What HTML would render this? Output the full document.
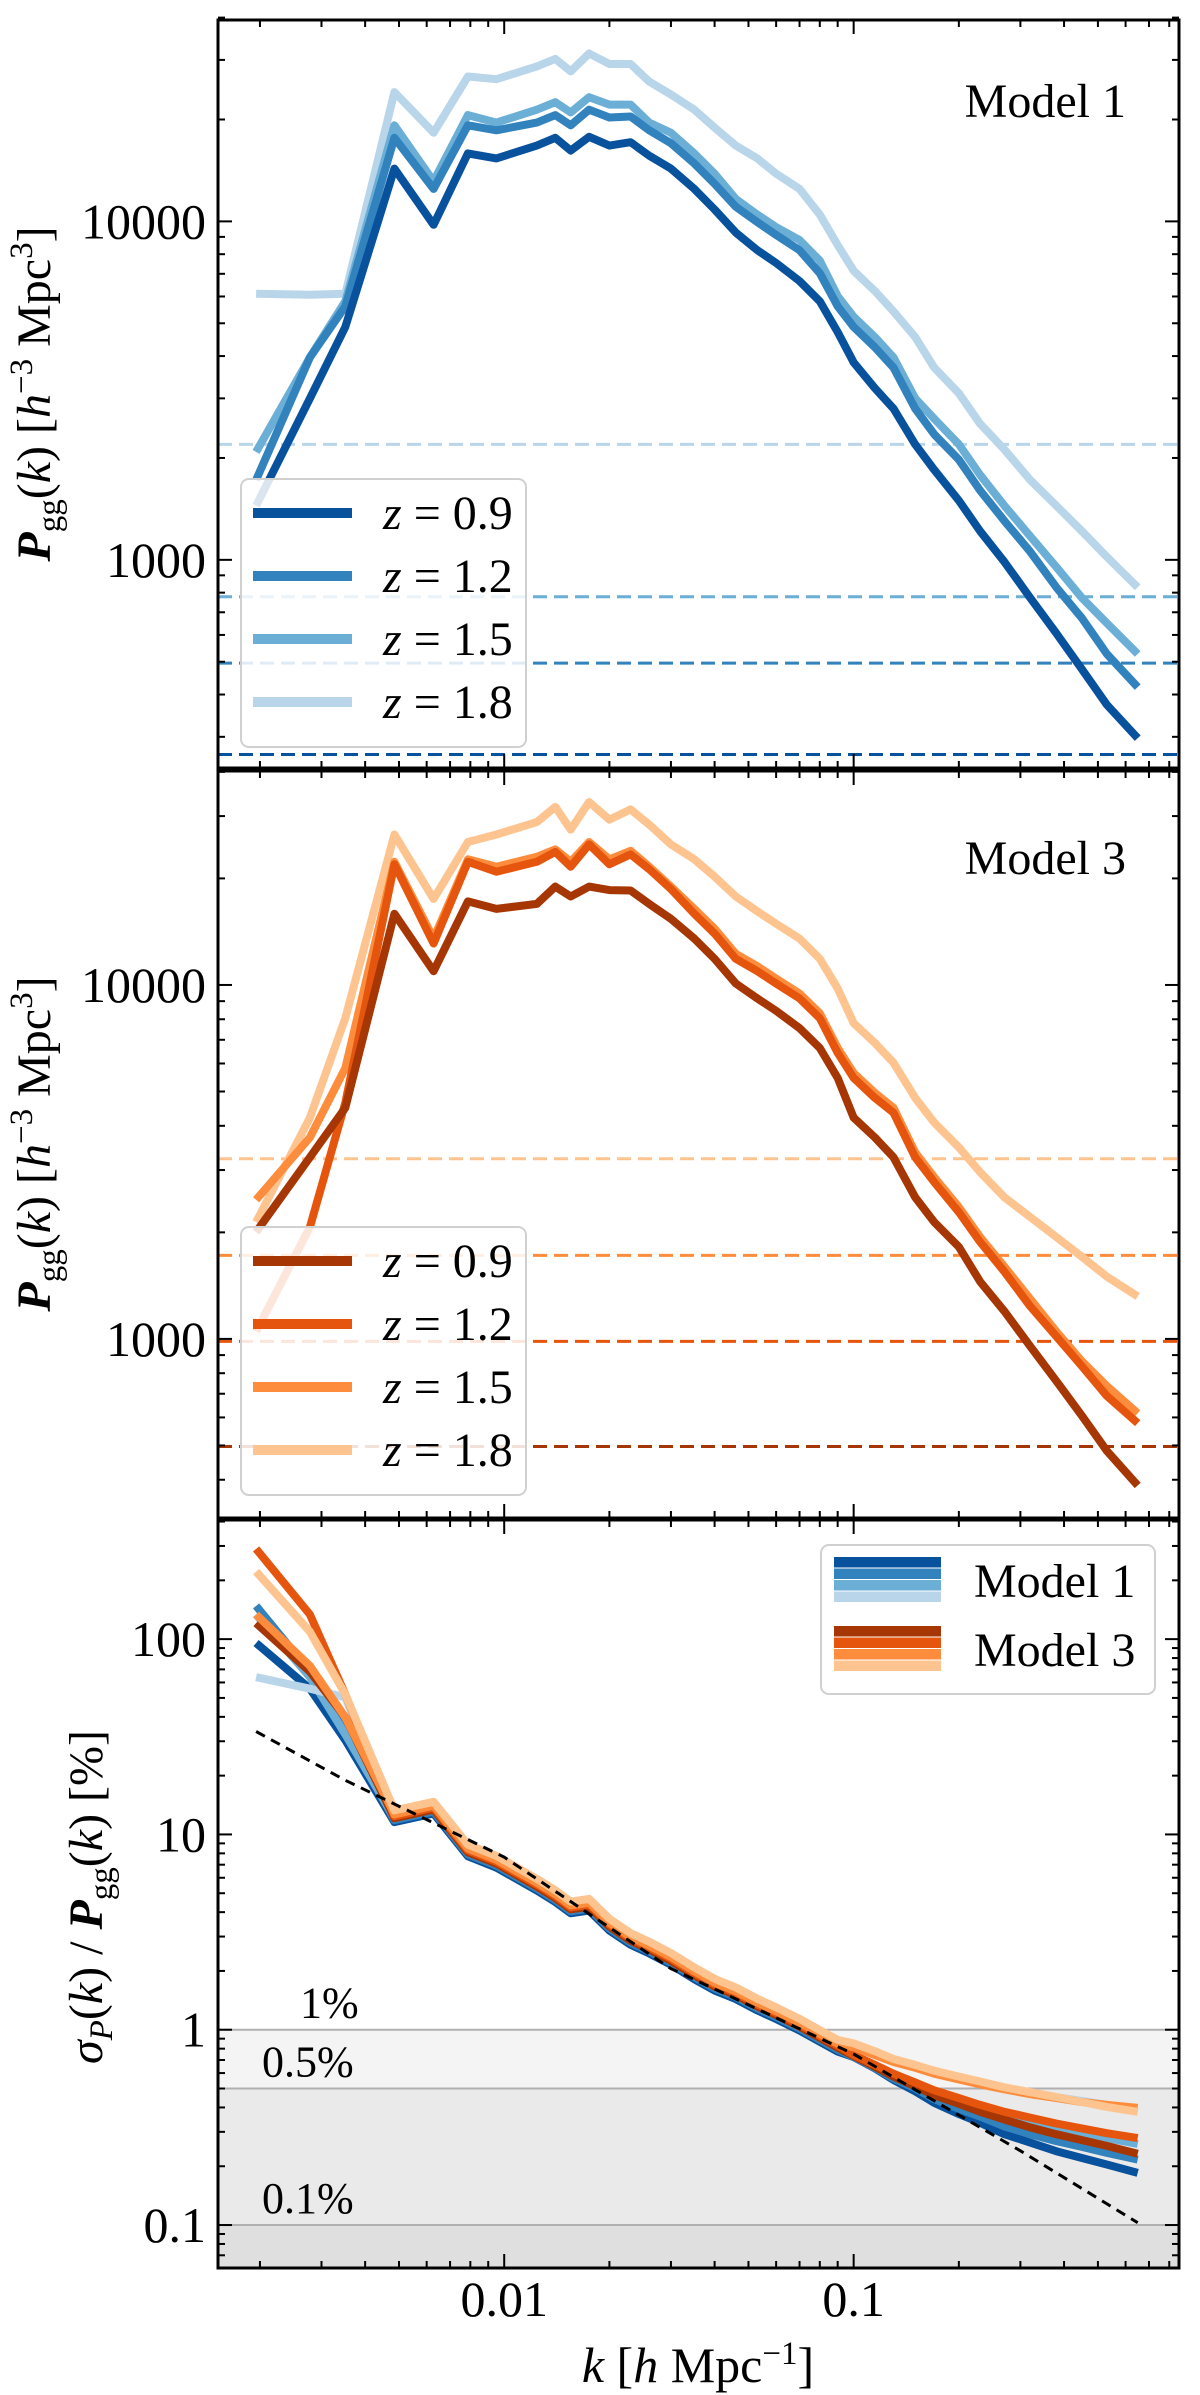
<!DOCTYPE html>
<html><head><meta charset="utf-8"><title>Galaxy power spectrum</title>
<style>
html,body{margin:0;padding:0;background:#fff;}
svg{display:block;font-family:"Liberation Serif","DejaVu Serif",serif;}
</style></head>
<body>
<svg id="fig" width="1200" height="2395" viewBox="0 0 1200 2395" xmlns="http://www.w3.org/2000/svg">
<defs>
<clipPath id="c1"><rect x="218" y="20" width="961" height="748"/></clipPath>
<clipPath id="c2"><rect x="218" y="771" width="961" height="747"/></clipPath>
<clipPath id="c3"><rect x="218" y="1520" width="961" height="748"/></clipPath>
</defs>
<g id="layer"></g>
</svg>
<script>
// ---------- data ----------
const K = [0.00195,0.00278,0.00351,0.00485,0.00628,0.00787,0.0095,0.0124,0.014,0.0155,0.0175,0.02,0.023,0.026,0.03,0.035,0.04,0.046,0.053,0.06,0.07,0.08,0.09,0.1,0.115,0.13,0.15,0.17,0.2,0.23,0.27,0.32,0.38,0.45,0.53,0.65];
// Model 1, log10 P(k)
const logP_m1_z09 = [3.160,3.477,3.688,4.156,3.990,4.201,4.186,4.224,4.247,4.209,4.250,4.224,4.234,4.194,4.156,4.096,4.035,3.967,3.915,3.877,3.824,3.764,3.673,3.583,3.507,3.447,3.341,3.266,3.175,3.085,2.994,2.888,2.783,2.677,2.572,2.473];
const logP_m1_z12 = [3.236,3.598,3.749,4.247,4.096,4.284,4.269,4.292,4.314,4.284,4.330,4.307,4.310,4.269,4.231,4.171,4.111,4.043,3.998,3.960,3.915,3.847,3.749,3.688,3.628,3.568,3.447,3.371,3.296,3.205,3.115,3.024,2.919,2.828,2.722,2.624];
const logP_m1_z15 = [3.319,3.598,3.764,4.284,4.118,4.314,4.292,4.330,4.352,4.322,4.367,4.345,4.345,4.292,4.262,4.201,4.141,4.066,4.020,3.983,3.945,3.884,3.779,3.718,3.658,3.598,3.477,3.417,3.341,3.251,3.160,3.070,2.979,2.888,2.813,2.722];
const logP_m1_z18 = [3.786,3.783,3.786,4.382,4.262,4.428,4.420,4.458,4.480,4.443,4.496,4.465,4.465,4.413,4.375,4.330,4.277,4.224,4.186,4.141,4.096,4.020,3.930,3.854,3.794,3.734,3.658,3.568,3.492,3.402,3.326,3.236,3.160,3.085,3.009,2.919];
const logN_m1 = [2.425,2.695,2.891,3.341];
// Model 3, log10 P(k)
const logP_m3_z09 = [3.302,3.513,3.653,4.201,4.039,4.236,4.215,4.229,4.278,4.250,4.278,4.268,4.267,4.229,4.187,4.131,4.074,4.004,3.962,3.927,3.878,3.822,3.737,3.625,3.569,3.513,3.400,3.330,3.260,3.162,3.078,2.979,2.881,2.783,2.684,2.586];
const logP_m3_z12 = [3.021,3.316,3.667,4.341,4.117,4.348,4.320,4.348,4.376,4.334,4.397,4.341,4.369,4.327,4.271,4.201,4.145,4.074,4.039,4.004,3.962,3.906,3.808,3.737,3.681,3.639,3.513,3.443,3.358,3.274,3.190,3.092,3.007,2.923,2.839,2.762];
const logP_m3_z15 = [3.393,3.569,3.765,4.348,4.131,4.355,4.334,4.362,4.383,4.348,4.404,4.355,4.379,4.334,4.278,4.215,4.159,4.088,4.053,4.018,3.976,3.920,3.822,3.751,3.695,3.653,3.527,3.457,3.372,3.288,3.204,3.113,3.021,2.937,2.867,2.790];
const logP_m3_z18 = [3.330,3.625,3.906,4.425,4.243,4.404,4.425,4.460,4.503,4.439,4.517,4.467,4.496,4.453,4.397,4.355,4.306,4.250,4.208,4.173,4.131,4.074,3.990,3.892,3.836,3.780,3.681,3.611,3.541,3.471,3.400,3.344,3.288,3.232,3.176,3.120];
const logN_m3 = [2.696,2.993,3.236,3.509];
// relative error, log10 percent
const logE_m1_z09 = [1.980,1.746,1.483,1.063,1.107,0.888,0.830,0.713,0.654,0.596,0.610,0.508,0.435,0.391,0.333,0.259,0.201,0.157,0.099,0.055,-0.004,-0.062,-0.112,-0.140,-0.198,-0.257,-0.315,-0.374,-0.432,-0.476,-0.535,-0.578,-0.622,-0.657,-0.690,-0.733];
const logE_m1_z12 = [2.170,1.834,1.541,1.073,1.117,0.898,0.840,0.723,0.664,0.606,0.620,0.518,0.445,0.401,0.343,0.269,0.211,0.167,0.109,0.065,0.006,-0.052,-0.102,-0.140,-0.195,-0.250,-0.300,-0.355,-0.405,-0.445,-0.495,-0.535,-0.570,-0.600,-0.630,-0.665];
const logE_m1_z15 = [2.126,1.805,1.512,1.083,1.127,0.908,0.850,0.733,0.674,0.616,0.630,0.528,0.455,0.411,0.353,0.279,0.221,0.177,0.119,0.075,0.016,-0.042,-0.092,-0.130,-0.180,-0.230,-0.275,-0.320,-0.365,-0.400,-0.440,-0.475,-0.505,-0.530,-0.555,-0.585];
const logE_m1_z18 = [1.805,1.746,1.702,1.098,1.142,0.923,0.865,0.748,0.689,0.631,0.645,0.543,0.470,0.426,0.368,0.294,0.236,0.192,0.134,0.090,0.031,-0.027,-0.077,-0.080,-0.120,-0.160,-0.190,-0.220,-0.250,-0.275,-0.300,-0.325,-0.345,-0.365,-0.385,-0.420];
const logE_m3_z09 = [2.082,1.834,1.600,1.083,1.127,0.908,0.850,0.733,0.674,0.616,0.630,0.528,0.455,0.411,0.353,0.279,0.221,0.177,0.119,0.075,0.016,-0.042,-0.092,-0.135,-0.190,-0.240,-0.290,-0.335,-0.380,-0.420,-0.460,-0.500,-0.535,-0.565,-0.595,-0.635];
const logE_m3_z12 = [2.462,2.126,1.717,1.093,1.137,0.918,0.860,0.743,0.684,0.626,0.640,0.538,0.465,0.421,0.363,0.289,0.231,0.187,0.129,0.085,0.026,-0.032,-0.082,-0.130,-0.180,-0.225,-0.270,-0.310,-0.350,-0.385,-0.420,-0.450,-0.480,-0.505,-0.530,-0.555];
const logE_m3_z15 = [2.126,1.863,1.600,1.103,1.147,0.928,0.870,0.753,0.694,0.636,0.650,0.548,0.475,0.431,0.373,0.299,0.241,0.197,0.139,0.095,0.036,-0.022,-0.072,-0.090,-0.130,-0.165,-0.195,-0.225,-0.255,-0.280,-0.305,-0.330,-0.350,-0.370,-0.385,-0.400];
const logE_m3_z18 = [2.346,2.038,1.717,1.123,1.167,0.948,0.890,0.773,0.714,0.656,0.670,0.568,0.495,0.451,0.393,0.319,0.261,0.217,0.159,0.115,0.056,-0.002,-0.052,-0.070,-0.110,-0.150,-0.180,-0.210,-0.240,-0.265,-0.295,-0.320,-0.345,-0.370,-0.395,-0.420];
const K_ref = [0.00195,0.0035,0.01,0.03,0.1,0.3,0.65];
const logE_ref = [1.527,1.278,0.884,0.313,-0.125,-0.620,-0.988];
const bandLevels = [1,0.5,0.1];
const bandLabels = ["1%","0.5%","0.1%"];
const zLabels = ["0.9","1.2","1.5","1.8"];

// ---------- layout ----------
const NS="http://www.w3.org/2000/svg";
const L=218,R=1179, XL0=-2.819, XL1=-0.069;
const P=[{top:20,bot:768,y0:2.385,y1:4.595},{top:771,bot:1518,y0:2.494,y1:4.6045},{top:1520,bot:2268,y0:-1.22,y1:2.610}];
const xs=k=>L+(Math.log10(k)-XL0)/(XL1-XL0)*(R-L);
const ysL=(p,lv)=>p.bot-(lv-p.y0)/(p.y1-p.y0)*(p.bot-p.top);
const root=document.getElementById('layer');
function mk(tag,attrs,parent){const e=document.createElementNS(NS,tag);for(const a in attrs)e.setAttribute(a,attrs[a]);(parent||root).appendChild(e);return e;}
const blues=["#08519c","#3182bd","#6baed6","#b9d5ea"];
const oranges=["#a63603","#e6550d","#fd8d3c","#fdc48f"];

function drawAxes(p,yMajors,yMinors,fmt){
  const g=mk('g',{});
  
  
  for(let d=-3;d<=0;d++){for(let m=1;m<10;m++){const k=m*Math.pow(10,d);const lk=Math.log10(k);if(lk<XL0||lk>XL1)continue;const x=xs(k);const len=m===1?14:7;
    mk('line',{x1:x,x2:x,y1:p.bot,y2:p.bot-len,stroke:'#000','stroke-width':2},g);
    mk('line',{x1:x,x2:x,y1:p.top,y2:p.top+len,stroke:'#000','stroke-width':2},g);}}
  yMinors.forEach(v=>{const y=ysL(p,Math.log10(v));mk('line',{x1:L,x2:L+7,y1:y,y2:y,stroke:'#000','stroke-width':2},g);mk('line',{x1:R,x2:R-7,y1:y,y2:y,stroke:'#000','stroke-width':2},g);});
  yMajors.forEach(v=>{const y=ysL(p,Math.log10(v));mk('line',{x1:L,x2:L+14,y1:y,y2:y,stroke:'#000','stroke-width':2},g);mk('line',{x1:R,x2:R-14,y1:y,y2:y,stroke:'#000','stroke-width':2},g);
    const t=mk('text',{x:L-12,y:y+17,'text-anchor':'end','font-size':50},g);t.textContent=fmt(v);
    
    });
  const fr=mk('rect',{x:L,y:p.top,width:R-L,height:p.bot-p.top,fill:'none',stroke:'#000','stroke-width':3});
  
  
}
function poly(p,kArr,lv,color,w,clip,name,dash){
  const pts=kArr.map((k,i)=>xs(k).toFixed(1)+','+ysL(p,lv[i]).toFixed(1)).join(' ');
  const e=mk('polyline',{points:pts,fill:'none',stroke:color,'stroke-width':w,'stroke-linejoin':'round','clip-path':'url(#'+clip+')'});
  if(dash)e.setAttribute('stroke-dasharray',dash);
  
  
  return e;
}
function hline(p,lv,color,clip,name){
  const y=ysL(p,lv);
  const e=mk('line',{x1:L,x2:R,y1:y,y2:y,stroke:color,'stroke-width':3,'stroke-dasharray':'14,7','clip-path':'url(#'+clip+')'});
  
  
}
function legendP(top,cols,name){
  const g=mk('g',{});
  
  
  mk('rect',{x:241,y:top,width:285,height:268,rx:8,fill:'#fff','fill-opacity':0.85,stroke:'#d0d0d0','stroke-width':2},g);
  cols.forEach((c,i)=>{const y=top+34+i*63;
    const ln=mk('line',{x1:253,x2:352,y1:y,y2:y,stroke:c,'stroke-width':10},g);
    
    
    const t=mk('text',{x:383,y:y+16,'font-size':48},g);
    t.innerHTML='<tspan font-style="italic">z</tspan> = '+zLabels[i];
    
    });
}
function ytitle(cx,cy,html,name){
  const t=mk('text',{x:0,y:0,transform:`translate(${cx},${cy}) rotate(-90)`,'text-anchor':'middle','font-size':48});
  t.innerHTML=html;
  
  
}

// ---------- panel 1 ----------
{const p=P[0];
 logN_m1.forEach((v,i)=>hline(p,v,blues[i],'c1','shot-noise-m1-z'+zLabels[i]));
 [logP_m1_z18,logP_m1_z15,logP_m1_z12,logP_m1_z09].forEach((a,j)=>poly(p,K,a,blues[3-j],8,'c1','pk-m1-z'+zLabels[3-j]));
 drawAxes(p,[1000,10000],[300,400,500,600,700,800,900,2000,3000,4000,5000,6000,7000,8000,9000,20000,30000,40000],v=>String(v));
 legendP(479,blues,'legend-model1');
 const t=mk('text',{x:1126,y:117,'text-anchor':'end','font-size':48});t.textContent='Model 1';
 
 ytitle(50,394,'<tspan font-weight="bold" font-style="italic">P</tspan><tspan font-size="33" dy="10">gg</tspan><tspan dy="-10">(</tspan><tspan font-style="italic">k</tspan>) [<tspan font-style="italic">h</tspan><tspan font-size="33" dy="-18">−3</tspan><tspan dy="18"> Mpc</tspan><tspan font-size="33" dy="-18">3</tspan><tspan dy="18">]</tspan>','y-axis-title-1');
}
// ---------- panel 2 ----------
{const p=P[1];
 logN_m3.forEach((v,i)=>hline(p,v,oranges[i],'c2','shot-noise-m3-z'+zLabels[i]));
 [logP_m3_z18,logP_m3_z15,logP_m3_z12,logP_m3_z09].forEach((a,j)=>poly(p,K,a,oranges[3-j],8,'c2','pk-m3-z'+zLabels[3-j]));
 drawAxes(p,[1000,10000],[400,500,600,700,800,900,2000,3000,4000,5000,6000,7000,8000,9000,20000,30000,40000],v=>String(v));
 legendP(1227,oranges,'legend-model3');
 const t=mk('text',{x:1126,y:874,'text-anchor':'end','font-size':48});t.textContent='Model 3';
 
 ytitle(50,1144,'<tspan font-weight="bold" font-style="italic">P</tspan><tspan font-size="33" dy="10">gg</tspan><tspan dy="-10">(</tspan><tspan font-style="italic">k</tspan>) [<tspan font-style="italic">h</tspan><tspan font-size="33" dy="-18">−3</tspan><tspan dy="18"> Mpc</tspan><tspan font-size="33" dy="-18">3</tspan><tspan dy="18">]</tspan>','y-axis-title-2');
}
// ---------- panel 3 ----------
{const p=P[2];
 const fills=['#f4f4f4','#eaeaea','#dfdfdf'];
 const labelX=[300,262,262];
 bandLevels.forEach((v,i)=>{const yTop=ysL(p,Math.log10(v));const yBot=i<2?ysL(p,Math.log10(bandLevels[i+1])):p.bot;
   const r=mk('rect',{x:L,y:yTop,width:R-L,height:yBot-yTop,fill:fills[i]});
   
   const ln=mk('line',{x1:L,x2:R,y1:yTop,y2:yTop,stroke:'#b0b0b0','stroke-width':2});
   
   const t=mk('text',{x:labelX[i],y:yTop-12,'font-size':44});t.textContent=bandLabels[i];
   });
 [logE_m1_z09,logE_m1_z12,logE_m1_z15,logE_m1_z18].forEach((a,i)=>poly(p,K,a,blues[i],8,'c3','err-m1-z'+zLabels[i]));
 [logE_m3_z09,logE_m3_z12,logE_m3_z15,logE_m3_z18].forEach((a,i)=>poly(p,K,a,oranges[i],8,'c3','err-m3-z'+zLabels[i]));
 poly(p,K_ref,logE_ref,'#000',3,'c3','reference-dashed-line','10,7');
 drawAxes(p,[0.1,1,10,100],[0.07,0.08,0.09,0.2,0.3,0.4,0.5,0.6,0.7,0.8,0.9,2,3,4,5,6,7,8,9,20,30,40,50,60,70,80,90,200,300,400],v=>String(v));
 const g=mk('g',{});
 mk('rect',{x:821,y:1545,width:334,height:149,rx:8,fill:'#fff','fill-opacity':0.85,stroke:'#d0d0d0','stroke-width':2},g);
 blues.forEach((c,i)=>mk('rect',{x:834,y:1557+i*11.5,width:107,height:10.5,fill:c},g));
 oranges.forEach((c,i)=>mk('rect',{x:834,y:1626+i*11.5,width:107,height:10.5,fill:c},g));
 const t1=mk('text',{x:974,y:1597,'font-size':48},g);t1.textContent='Model 1';
 
 const t2=mk('text',{x:974,y:1666,'font-size':48},g);t2.textContent='Model 3';
 
 ytitle(102,1897,'<tspan font-style="italic">σ</tspan><tspan font-size="33" dy="10" font-style="italic">P</tspan><tspan dy="-10">(</tspan><tspan font-style="italic">k</tspan>) / <tspan font-weight="bold" font-style="italic">P</tspan><tspan font-size="33" dy="10">gg</tspan><tspan dy="-10">(</tspan><tspan font-style="italic">k</tspan>) [%]','y-axis-title-3');
 [[0.01,'0.01'],[0.1,'0.1']].forEach(([k,s])=>{const t=mk('text',{x:xs(k),y:2316,'text-anchor':'middle','font-size':50});t.textContent=s;
   });
 const xt=mk('text',{x:698,y:2382,'text-anchor':'middle','font-size':50});
 xt.innerHTML='<tspan font-style="italic">k</tspan> [<tspan font-style="italic">h</tspan> Mpc<tspan font-size="33" dy="-18">−1</tspan><tspan dy="18">]</tspan>';
 
}
</script>
</body></html>
